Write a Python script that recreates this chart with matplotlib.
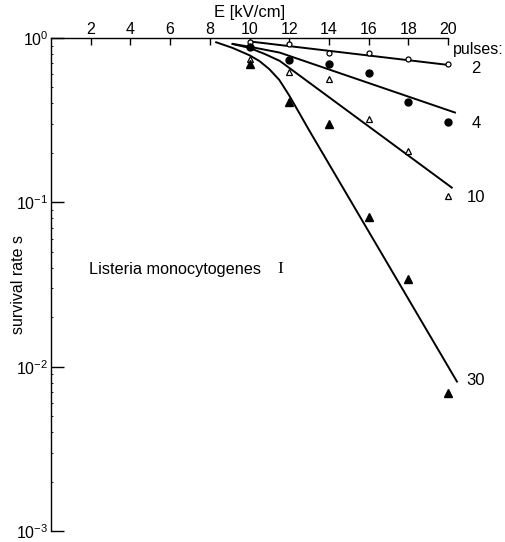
import matplotlib
matplotlib.use('Agg')
import matplotlib.pyplot as plt
from matplotlib.ticker import LogLocator, NullFormatter

plt.rcParams['font.family'] = ['Liberation Sans', 'DejaVu Sans']
plt.rcParams['mathtext.default'] = 'regular'

# ************************************************************************
# Data
# ************************************************************************
E = [10, 12, 14, 16, 18, 20]
s_2 = [0.94, 0.92, 0.81, 0.81, 0.75, 0.69]
s_4 = [0.88, 0.73, 0.69, 0.61, 0.41, 0.31]
s_10 = [0.75, 0.62, 0.56, 0.32, 0.205, 0.109]
s_30 = [0.69, 0.41, 0.30, 0.081, 0.034, 0.0069]

# fitted curves
fit2_E = [10, 20]
fit2_s = [0.953, 0.686]
fit4_E = [9.16, 10, 11.52, 20.35]
fit4_s = [0.92, 0.885, 0.815, 0.352]
fit10_E = [9.14, 10, 10.76, 11.52, 20.19]
fit10_s = [0.92, 0.87, 0.80, 0.726, 0.123]
fit30_E = [8.32, 9.14, 10.0, 10.5, 11.0, 11.5, 12.0, 12.5, 13.0, 20.45]
fit30_s = [0.942, 0.871, 0.785, 0.724, 0.646, 0.556, 0.447, 0.351, 0.275, 0.00813]

pulse_labels = ['2', '4', '10', '30']
label_s = [0.649, 0.301, 0.107, 0.0083]

x_ticks = [2, 4, 6, 8, 10, 12, 14, 16, 18, 20]
y_ticks = [1, 0.1, 0.01, 0.001]
y_ticklabels = ['$10^{0}$', '$10^{-1}$', '$10^{-2}$', '$10^{-3}$']

# ************************************************************************
# Plot
# ************************************************************************
fig = plt.figure(figsize=(5.06, 5.42), dpi=100)
ax = fig.add_axes([0.1008, 0.02, 0.7846, 0.9099])

lw = 1.4
for fx, fy in [(fit2_E, fit2_s), (fit4_E, fit4_s), (fit10_E, fit10_s), (fit30_E, fit30_s)]:
    ax.plot(fx, fy, color='black', lw=lw, clip_on=False, zorder=2)

ax.plot(E, s_2, 'o', ms=3.6, mfc='white', mec='black', mew=0.9, clip_on=False, zorder=3)
ax.plot(E, s_4, 'o', ms=5, color='black', clip_on=False, zorder=3)
ax.plot(E, s_10, '^', ms=5, mfc='white', mec='black', mew=0.9, clip_on=False, zorder=3)
ax.plot(E, s_30, '^', ms=5.5, color='black', clip_on=False, zorder=3)

ax.set_yscale('log')
ax.set_xlim(0, 20)
ax.set_ylim(0.001, 1)

ax.spines['right'].set_visible(False)
ax.spines['bottom'].set_visible(False)
ax.spines['left'].set_linewidth(1.0)
ax.spines['top'].set_linewidth(1.0)

ax.xaxis.tick_top()
ax.xaxis.set_label_position('top')
ax.set_xticks(x_ticks)
ax.set_xticklabels([str(t) for t in x_ticks])
ax.tick_params(axis='x', direction='in', length=5, width=1, labelsize=11.5, pad=1)

ax.set_yticks(y_ticks)
ax.set_yticklabels(y_ticklabels)
ax.yaxis.set_minor_locator(LogLocator(base=10, subs=range(2, 10)))
ax.yaxis.set_minor_formatter(NullFormatter())
ax.tick_params(axis='y', which='major', direction='in', length=9, width=1, labelsize=11.5, pad=2)
ax.tick_params(axis='y', which='minor', direction='in', length=1.5, width=0.6)

ax.set_xlabel('E [kV/cm]', fontsize=12, labelpad=3)
ax.set_ylabel('survival rate s', fontsize=11.5)
ax.yaxis.set_label_coords(-0.062, 0.5)

# curve labels on the right
ax.text(22.8, 0.857, 'pulses:', fontsize=11.5, ha='right', va='center', clip_on=False)
for lab, ys in zip(pulse_labels, label_s):
    ax.text(21.4, ys, lab, fontsize=12, ha='center', va='center', clip_on=False)

ax.text(1.92, 0.0393, 'Listeria monocytogenes', fontsize=11.7, ha='left', va='center')
ax.text(11.55, 0.0393, 'I', fontsize=12.5, ha='center', va='center',
        family=['Liberation Serif', 'DejaVu Serif'])

plt.savefig('out.png', dpi=100)
